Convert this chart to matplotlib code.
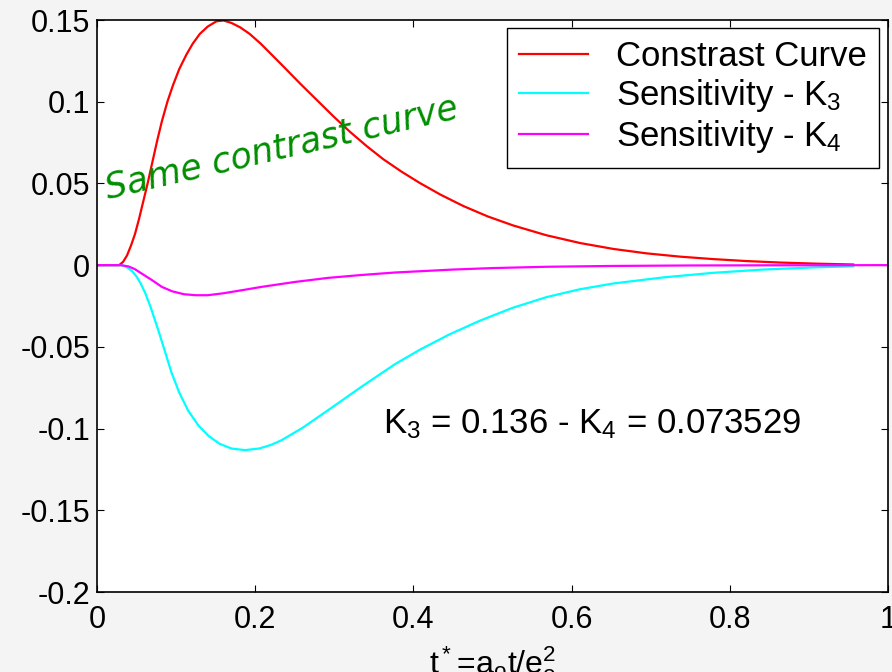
import matplotlib
matplotlib.use('Agg')
import matplotlib.pyplot as plt
from matplotlib.ticker import FixedLocator, FixedFormatter

plt.rcParams['font.family'] = ['Liberation Sans', 'DejaVu Sans']
plt.rcParams['mathtext.fontset'] = 'custom'
plt.rcParams['mathtext.rm'] = 'Liberation Sans'
plt.rcParams['mathtext.it'] = 'Liberation Sans:italic'
plt.rcParams['axes.unicode_minus'] = False

# Contrast curve (red)
t_contrast = [0.000, 0.028, 0.033, 0.038, 0.043, 0.048, 0.053, 0.058, 0.064, 0.070,
              0.076, 0.082, 0.089, 0.096, 0.104, 0.113, 0.121, 0.130, 0.140, 0.151,
              0.160, 0.170, 0.181, 0.193, 0.207, 0.221, 0.236, 0.257, 0.278, 0.299,
              0.320, 0.341, 0.362, 0.385, 0.408, 0.434, 0.463, 0.494, 0.526, 0.568,
              0.611, 0.653, 0.695, 0.737, 0.779, 0.821, 0.863, 0.910, 0.956]
contrast = [0.0, 0.0, 0.002, 0.006, 0.012, 0.019, 0.028, 0.038, 0.050, 0.063,
            0.076, 0.088, 0.100, 0.110, 0.120, 0.1288, 0.1355, 0.1415, 0.146, 0.1492,
            0.1497, 0.1482, 0.1455, 0.1415, 0.1355, 0.1287, 0.1214, 0.111, 0.101, 0.091,
            0.0815, 0.0728, 0.0648, 0.0572, 0.0503, 0.0432, 0.0362, 0.0298, 0.0243, 0.0183,
            0.0135, 0.0099, 0.0072, 0.0052, 0.0037, 0.0025, 0.0016, 0.0009, 0.0004]

# Sensitivity to K3 (cyan)
t_k3 = [0.000, 0.030, 0.035, 0.040, 0.045, 0.050, 0.055, 0.061, 0.068, 0.0775,
        0.086, 0.094, 0.104, 0.115, 0.128, 0.141, 0.155, 0.170, 0.187, 0.205,
        0.220, 0.233, 0.260, 0.292, 0.335, 0.377, 0.408, 0.445, 0.484, 0.525,
        0.568, 0.610, 0.653, 0.716, 0.779, 0.842, 0.905, 0.956]
sens_k3 = [0.0, 0.0, -0.0005, -0.002, -0.004, -0.007, -0.011, -0.0171, -0.026, -0.0398,
           -0.053, -0.0655, -0.078, -0.0888, -0.098, -0.1045, -0.1093, -0.1122, -0.1132, -0.1122,
           -0.1100, -0.1072, -0.0995, -0.0888, -0.0742, -0.0605, -0.0518, -0.0425, -0.0340, -0.0262,
           -0.0196, -0.0148, -0.0112, -0.0075, -0.0047, -0.0027, -0.0014, -0.0007]

# Sensitivity to K4 (magenta)
t_k4 = [0.000, 0.030, 0.040, 0.048, 0.056, 0.069, 0.082, 0.095, 0.110, 0.125,
        0.140, 0.160, 0.185, 0.208, 0.250, 0.292, 0.335, 0.377, 0.450, 0.500,
        0.568, 0.650, 0.750, 0.850, 1.000]
sens_k4 = [0.0, 0.0, -0.0008, -0.0025, -0.005, -0.009, -0.0133, -0.0160, -0.0178, -0.0184,
           -0.0184, -0.0172, -0.0152, -0.0133, -0.0103, -0.0078, -0.0060, -0.0045, -0.0027, -0.0018,
           -0.0010, -0.0005, -0.0002, -0.0001, 0.0]

yticks = [-0.2, -0.15, -0.1, -0.05, 0, 0.05, 0.1, 0.15]
ytick_labels = ['-0.2', '-0.15', '-0.1', '-0.05', '0', '0.05', '0.1', '0.15']
xticks = [0, 0.2, 0.4, 0.6, 0.8, 1]
xtick_labels = ['0', '0.2', '0.4', '0.6', '0.8', '1']

fig = plt.figure(figsize=(8.92, 6.72), dpi=100, facecolor='#f4f4f4')
ax = fig.add_axes([97 / 892, 1 - 592 / 672, 791 / 892, 572 / 672])
ax.set_facecolor('white')

ax.plot(t_contrast, contrast, color='#ff0000', lw=1.6, label='Constrast Curve')
ax.plot(t_k3, sens_k3, color='#00ffff', lw=1.6, label=r'Sensitivity - K$_3$')
ax.plot(t_k4, sens_k4, color='#ff00ff', lw=1.6, label=r'Sensitivity - K$_4$')

ax.set_xlim(0, 1)
ax.set_ylim(-0.2, 0.15)
ax.yaxis.set_major_locator(FixedLocator(yticks))
ax.yaxis.set_major_formatter(FixedFormatter(ytick_labels))
ax.xaxis.set_major_locator(FixedLocator(xticks))
ax.xaxis.set_major_formatter(FixedFormatter(xtick_labels))
ax.tick_params(direction='in', length=5, width=0.8, top=True, right=True, labelsize=22)
ax.tick_params(axis='x', pad=9)
ax.tick_params(axis='y', pad=5)
for s in ax.spines.values():
    s.set_linewidth(1.2)

ax.set_xlabel(r'$\mathregular{t^*\!=\!a_o t/e_o^2}$', fontsize=23, labelpad=7)

ax.text(0.3616, -0.1026, r'K$_3$ = 0.136 - K$_4$ = 0.073529', fontsize=25,
        ha='left', va='baseline')
ax.text(0.014, 0.041, 'Same contrast curve', fontsize=25, color='#008f00',
        family='DejaVu Sans', style='italic', rotation=13, rotation_mode='anchor',
        ha='left', va='baseline')

leg = ax.legend(loc='upper right', bbox_to_anchor=(879 / 892, 1 - 28 / 672),
                bbox_transform=fig.transFigure, borderaxespad=0, fontsize=25,
                fancybox=False, edgecolor='black', framealpha=1,
                handlelength=2.0, handletextpad=0.8, labelspacing=0.12, borderpad=0.35)
leg.get_frame().set_linewidth(1.0)

fig.savefig('out.png', dpi=100, facecolor=fig.get_facecolor())
